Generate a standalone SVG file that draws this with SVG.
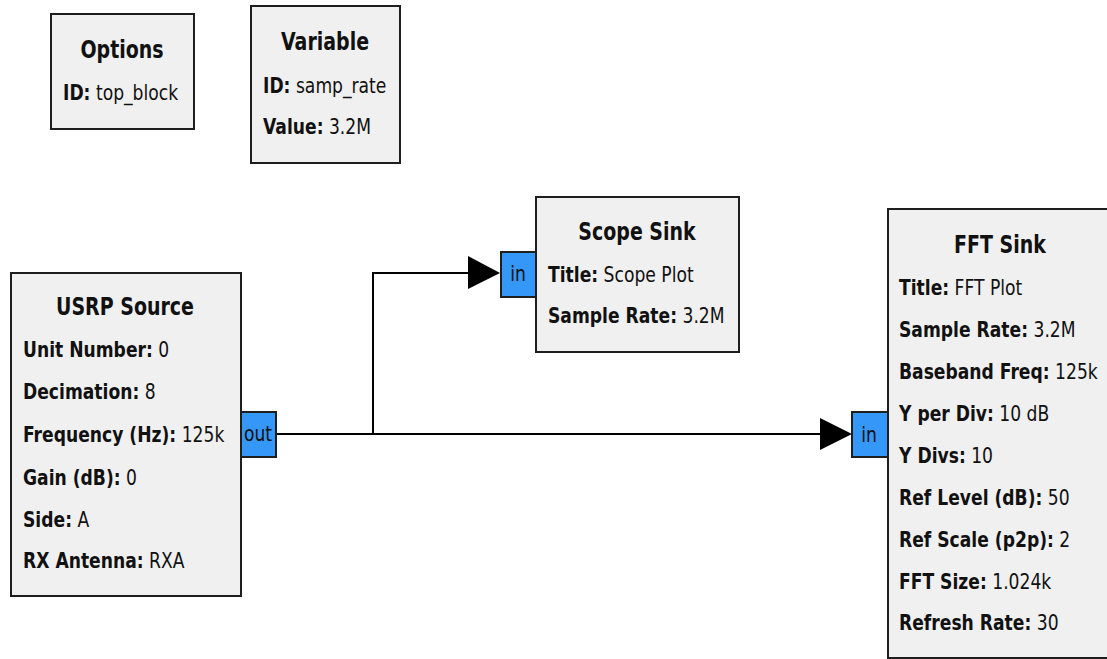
<svg xmlns="http://www.w3.org/2000/svg" width="1107" height="659" viewBox="0 0 1107 659">
<style>
.box{fill:#f0f0f0;stroke:#1e1e1e;stroke-width:2}
.port{fill:#3597f7;stroke:#1e1e1e;stroke-width:2}
.t{font-family:"DejaVu Sans","Liberation Sans",sans-serif;font-size:25px;font-weight:bold;fill:#111;text-anchor:middle}
.r{font-family:"DejaVu Sans","Liberation Sans",sans-serif;font-size:22px;fill:#111}
.r tspan.k{font-weight:bold}
.p{font-family:"DejaVu Sans","Liberation Sans",sans-serif;font-size:22px;fill:#111;text-anchor:middle}
.w{fill:none;stroke:#000;stroke-width:2}
.ah{fill:#000}
</style>
<rect width="1107" height="659" fill="#fff"/>
<g id="connectors">
<polyline class="w" points="276,434 373,434 373,273 470,273"/>
<polygon class="ah" points="468,256 500,273 468,289"/>
<line class="w" x1="276" y1="434" x2="822" y2="434"/>
<polygon class="ah" points="820,418 852,434 820,450"/>
</g>
<g id="options">
<rect class="box" x="51" y="14" width="143" height="115"/>
<text class="t" transform="matrix(.76 0 0 1 122 58)">Options</text>
<text class="r" transform="matrix(.78 0 0 1 63 100)"><tspan class="k">ID:</tspan> top_block</text>
</g>
<g id="variable">
<rect class="box" x="251" y="6" width="149" height="157"/>
<text class="t" transform="matrix(.76 0 0 1 325 50)">Variable</text>
<text class="r" transform="matrix(.78 0 0 1 263 93)"><tspan class="k">ID:</tspan> samp_rate</text>
<text class="r" transform="matrix(.78 0 0 1 263 134)"><tspan class="k">Value:</tspan> 3.2M</text>
</g>
<g id="usrp_source">
<rect class="box" x="11" y="273" width="230" height="323"/>
<text class="t" transform="matrix(.76 0 0 1 125 315)">USRP Source</text>
<text class="r" transform="matrix(.78 0 0 1 23 357)"><tspan class="k">Unit Number:</tspan> 0</text>
<text class="r" transform="matrix(.78 0 0 1 23 399)"><tspan class="k">Decimation:</tspan> 8</text>
<text class="r" transform="matrix(.78 0 0 1 23 442)"><tspan class="k">Frequency (Hz):</tspan> 125k</text>
<text class="r" transform="matrix(.78 0 0 1 23 485)"><tspan class="k">Gain (dB):</tspan> 0</text>
<text class="r" transform="matrix(.78 0 0 1 23 527)"><tspan class="k">Side:</tspan> A</text>
<text class="r" transform="matrix(.78 0 0 1 23 568)"><tspan class="k">RX Antenna:</tspan> RXA</text>
<rect class="port" x="241" y="412" width="35" height="45"/>
<text class="p" transform="matrix(.78 0 0 1 258 441)">out</text>
</g>
<g id="scope_sink">
<rect class="box" x="536" y="197" width="203" height="155"/>
<text class="t" transform="matrix(.76 0 0 1 637 240)">Scope Sink</text>
<text class="r" transform="matrix(.78 0 0 1 548 282)"><tspan class="k">Title:</tspan> Scope Plot</text>
<text class="r" transform="matrix(.78 0 0 1 548 323)"><tspan class="k">Sample Rate:</tspan> 3.2M</text>
<rect class="port" x="501" y="252" width="35" height="45"/>
<text class="p" transform="matrix(.78 0 0 1 518 281)">in</text>
</g>
<g id="fft_sink">
<rect class="box" x="888" y="209" width="230" height="449"/>
<text class="t" transform="matrix(.76 0 0 1 1000 253)">FFT Sink</text>
<text class="r" transform="matrix(.78 0 0 1 899 295)"><tspan class="k">Title:</tspan> FFT Plot</text>
<text class="r" transform="matrix(.78 0 0 1 899 337)"><tspan class="k">Sample Rate:</tspan> 3.2M</text>
<text class="r" transform="matrix(.78 0 0 1 899 379)"><tspan class="k">Baseband Freq:</tspan> 125k</text>
<text class="r" transform="matrix(.78 0 0 1 899 421)"><tspan class="k">Y per Div:</tspan> 10 dB</text>
<text class="r" transform="matrix(.78 0 0 1 899 463)"><tspan class="k">Y Divs:</tspan> 10</text>
<text class="r" transform="matrix(.78 0 0 1 899 505)"><tspan class="k">Ref Level (dB):</tspan> 50</text>
<text class="r" transform="matrix(.78 0 0 1 899 547)"><tspan class="k">Ref Scale (p2p):</tspan> 2</text>
<text class="r" transform="matrix(.78 0 0 1 899 589)"><tspan class="k">FFT Size:</tspan> 1.024k</text>
<text class="r" transform="matrix(.78 0 0 1 899 630)"><tspan class="k">Refresh Rate:</tspan> 30</text>
<rect class="port" x="852" y="412" width="36" height="45"/>
<text class="p" transform="matrix(.78 0 0 1 869 442)">in</text>
</g>
</svg>
